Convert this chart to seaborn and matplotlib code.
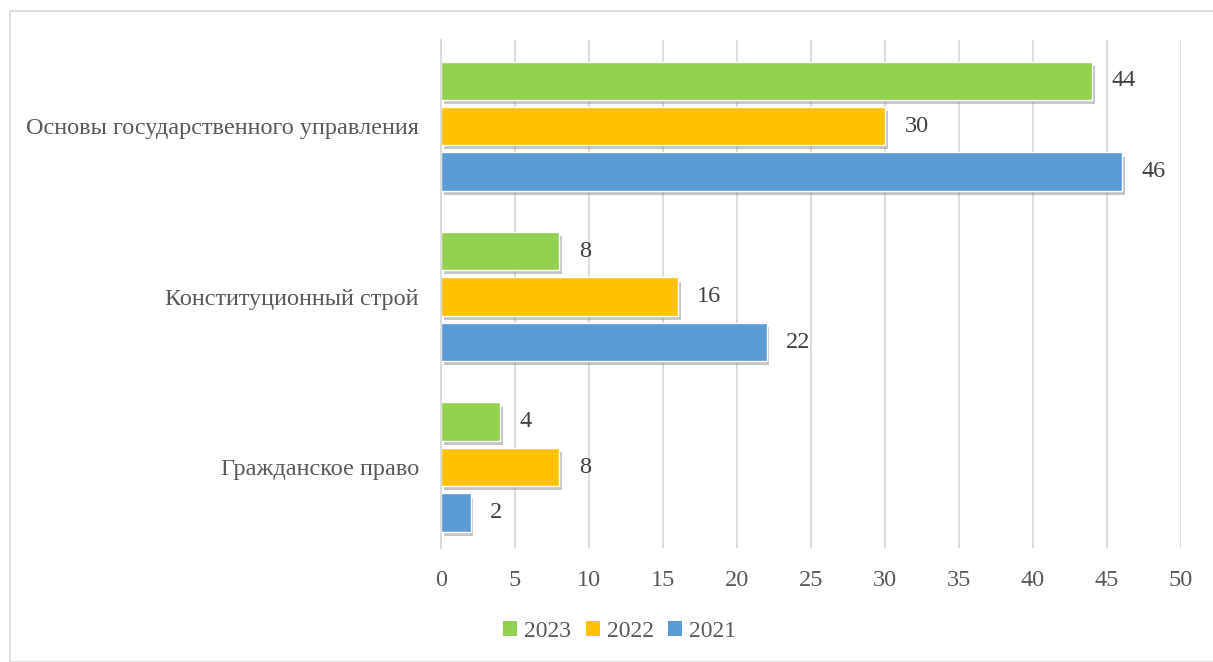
"""
Horizontal grouped barplot: number of items per subject area, 2021-2023.
"""
import pandas as pd
import seaborn as sns
import matplotlib.pyplot as plt
from matplotlib import patheffects
from matplotlib.patches import Rectangle, Patch

# Subject areas, top to bottom
categories = ['Основы государственного управления',
              'Конституционный строй',
              'Гражданское право']
years = ['2023', '2022', '2021']
values_2023 = [44, 8, 4]
values_2022 = [30, 16, 8]
values_2021 = [46, 22, 2]

colors = {'2023': '#92D050', '2022': '#FFC000', '2021': '#5B9BD5'}


def build_frame():
    """Long-format frame for seaborn."""
    rows = []
    for year, vals in zip(years, [values_2023, values_2022, values_2021]):
        for cat, v in zip(categories, vals):
            rows.append({'Раздел': cat, 'Год': year, 'Значение': v})
    return pd.DataFrame(rows)


def plot_bars():
    sns.set_theme(style='white')
    plt.rcParams['font.family'] = ['Liberation Serif', 'DejaVu Serif']
    df = build_frame()

    fig = plt.figure(figsize=(12.13, 6.62), dpi=100)
    ax = fig.add_axes([0.3636, 0.1722, 0.61, 0.7674])

    sns.barplot(data=df, y='Раздел', x='Значение', hue='Год',
                order=categories, hue_order=years, palette=colors,
                saturation=1, orient='h', width=0.8, gap=0.16,
                ax=ax, legend=False)

    # Soft shadow under bars, as in the office-style chart
    shadow = [patheffects.SimplePatchShadow(offset=(2, -3), shadow_rgbFace='#7F7F7F',
                                            alpha=0.45),
              patheffects.Normal()]
    for patch in ax.patches:
        patch.set_path_effects(shadow)

    # Value labels
    for container in ax.containers:
        ax.bar_label(container, padding=14, fontsize=17.5, color='#404040')

    ax.set_xlim(0, 50)
    ax.set_xticks(range(0, 51, 5))
    ax.set_ylim(2.475, -0.505)
    ax.xaxis.grid(True, color='#D9D9D9', linewidth=1.3)
    ax.set_axisbelow(True)
    for side in ['top', 'right', 'bottom']:
        ax.spines[side].set_visible(False)
    ax.spines['left'].set_color('#D9D9D9')
    ax.spines['left'].set_linewidth(1.3)

    ax.set_xlabel('')
    ax.set_ylabel('')
    ax.tick_params(axis='x', labelsize=17.5, labelcolor='#595959', length=0, pad=16)
    ax.tick_params(axis='y', labelsize=17.5, labelcolor='#595959', length=0, pad=16)

    handles = [Patch(facecolor=colors[y], edgecolor='none', label=y) for y in years]
    fig.legend(handles=handles, loc='center', bbox_to_anchor=(0.511, 0.046),
               ncol=3, frameon=False, fontsize=17, labelcolor='#595959',
               handlelength=0.6, handleheight=0.6, handletextpad=0.3,
               columnspacing=0.6)

    # Light chart-area border
    fig.patches.append(Rectangle((10 / 1213, 0), 1.2, 1 - 11 / 662,
                                 transform=fig.transFigure, fill=False,
                                 edgecolor='#D9D9D9', linewidth=1.2))

    fig.savefig('out.png', dpi=100)


if __name__ == '__main__':
    plot_bars()
